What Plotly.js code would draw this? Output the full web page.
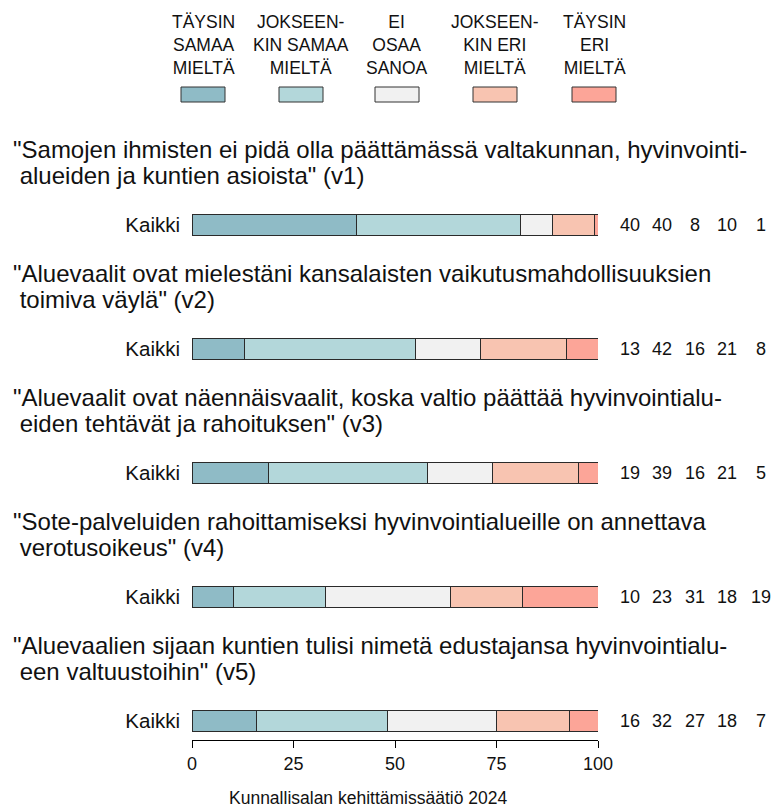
<!DOCTYPE html>
<html>
<head>
<meta charset="utf-8">
<script src="https://cdn.plot.ly/plotly-3.0.1.min.js"></script>
<style>html,body{margin:0;padding:0;background:#fff;}#chart{width:772px;height:812px;}</style>
</head>
<body>
<div id="chart"></div>
<script>
// ---- data ----
const questions = ['v1', 'v2', 'v3', 'v4', 'v5'];
const questionLines = [
  ['"Samojen ihmisten ei pidä olla päättämässä valtakunnan, hyvinvointi-', ' alueiden ja kuntien asioista" (v1)'],
  ['"Aluevaalit ovat mielestäni kansalaisten vaikutusmahdollisuuksien', ' toimiva väylä" (v2)'],
  ['"Aluevaalit ovat näennäisvaalit, koska valtio päättää hyvinvointialu-', ' eiden tehtävät ja rahoituksen" (v3)'],
  ['"Sote-palveluiden rahoittamiseksi hyvinvointialueille on annettava', ' verotusoikeus" (v4)'],
  ['"Aluevaalien sijaan kuntien tulisi nimetä edustajansa hyvinvointialu-', ' een valtuustoihin" (v5)']
];
const groupLabel = 'Kaikki';
const categories = ['TÄYSIN<br>SAMAA<br>MIELTÄ', 'JOKSEEN-<br>KIN SAMAA<br>MIELTÄ', 'EI<br>OSAA<br>SANOA', 'JOKSEEN-<br>KIN ERI<br>MIELTÄ', 'TÄYSIN<br>ERI<br>MIELTÄ'];
// percentage shares per answer category, v1..v5
const taysinSamaa     = [40.4, 12.9, 18.9, 10.1, 15.9];
const jokseenkinSamaa = [40.4, 42.1, 39.2, 22.7, 32.2];
const eiOsaa          = [8.1, 16.0, 16.0, 30.8, 26.9];
const jokseenkinEri   = [10.2, 21.2, 21.0, 17.9, 18.1];
const taysinEri       = [0.9, 7.8, 4.9, 18.5, 6.9];
// printed (rounded) values, v1..v5
const labelsV1 = [40, 40, 8, 10, 1];
const labelsV2 = [13, 42, 16, 21, 8];
const labelsV3 = [19, 39, 16, 21, 5];
const labelsV4 = [10, 23, 31, 18, 19];
const labelsV5 = [16, 32, 27, 18, 7];
const xTicks = [0, 25, 50, 75, 100];
const caption = 'Kunnallisalan kehittämissäätiö 2024';

// ---- styling ----
const colors = ['#8fbbc6', '#b3d7da', '#f1f1f1', '#f8c4b1', '#fca598'];
const FONT = 'Liberation Sans, Arial, sans-serif';
const W = 772, H = 812;
const L = 192, R = 174, T = 100, B = 72;
const plotW = W - L - R, plotH = H - T - B;
const pxX = px => (px - L) / plotW;          // pixel -> paper x
const pxY = py => (H - B - py) / plotH;      // pixel -> paper y

const series = [taysinSamaa, jokseenkinSamaa, eiOsaa, jokseenkinEri, taysinEri];
const yIdx = questions.map((q, i) => i);
const traces = series.map((vals, k) => ({
  type: 'bar', orientation: 'h',
  x: vals, y: yIdx,
  width: 0.165,
  marker: {color: colors[k], line: {color: '#2a2a2a', width: 1}},
  hoverinfo: 'x', showlegend: false
}));

const annotations = [];
const shapes = [];
// legend
const legendCx = [203, 301, 397, 495, 594];
categories.forEach((c, k) => {
  annotations.push({xref: 'paper', yref: 'paper', x: pxX(legendCx[k]), y: pxY(45), xanchor: 'center', yanchor: 'middle',
    text: c, showarrow: false, align: 'center', font: {family: FONT, size: 17.5, color: '#111'}});
  shapes.push({type: 'rect', xref: 'paper', yref: 'paper',
    x0: pxX(legendCx[k] - 22), x1: pxX(legendCx[k] + 22), y0: pxY(102), y1: pxY(87),
    fillcolor: colors[k], line: {color: '#333', width: 1}});
});
// question texts + value labels
const allLabels = [labelsV1, labelsV2, labelsV3, labelsV4, labelsV5];
const labelCols = [630, 662, 695, 727, 761];
const unitPx = 124;
questionLines.forEach((lines, i) => {
  lines.forEach((ln, j) => {
    annotations.push({xref: 'paper', yref: 'y', x: pxX(12), y: i - (j === 0 ? 75.5 : 49.5) / unitPx,
      xanchor: 'left', yanchor: 'middle', showarrow: false, align: 'left', borderpad: 0,
      text: ln.replace(/^ /, '\u00a0'), font: {family: FONT, size: 24, color: '#111'}});
  });
  allLabels[i].forEach((v, k) => {
    annotations.push({xref: 'paper', yref: 'y', x: pxX(labelCols[k]), y: i,
      xanchor: 'center', yanchor: 'middle', showarrow: false, text: String(v),
      font: {family: FONT, size: 18, color: '#111'}});
  });
});
annotations.push({xref: 'paper', yref: 'paper', x: pxX(368), y: pxY(798), xanchor: 'center', yanchor: 'middle',
  showarrow: false, text: caption, font: {family: FONT, size: 17.5, color: '#111'}});

const layout = {
  width: W, height: H,
  margin: {l: L, r: R, t: T, b: B, pad: 0},
  paper_bgcolor: '#fff', plot_bgcolor: '#fff',
  barmode: 'stack',
  font: {family: FONT, color: '#111'},
  xaxis: {range: [0, 100], tickvals: xTicks, ticktext: xTicks.map(String), ticks: 'outside', ticklen: 7, tickwidth: 1,
    tickcolor: '#000', showline: true, linecolor: '#000', linewidth: 1, showgrid: false, zeroline: false,
    tickfont: {family: FONT, size: 18, color: '#111'}, fixedrange: true},
  yaxis: {range: [4 + 19 / unitPx, -125 / unitPx], tickvals: yIdx, ticktext: yIdx.map(() => groupLabel),
    ticks: '', showline: false, showgrid: false, zeroline: false, ticklabelstandoff: 11,
    tickfont: {family: FONT, size: 20.5, color: '#111'}, fixedrange: true},
  annotations: annotations,
  shapes: shapes
};
Plotly.newPlot('chart', traces, layout, {displayModeBar: false, staticPlot: true});
</script>
</body>
</html>
